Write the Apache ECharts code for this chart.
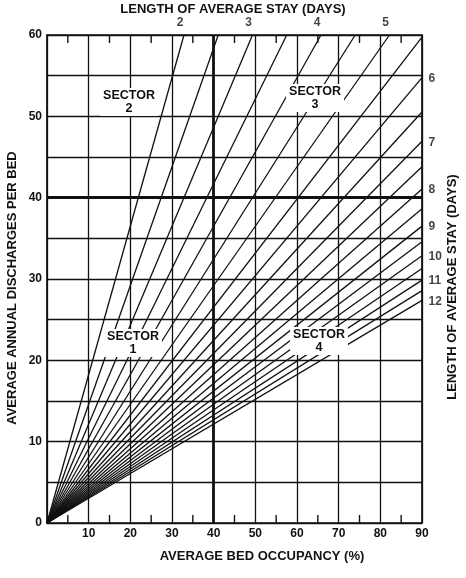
<!DOCTYPE html>
<html><head><meta charset="utf-8">
<script src="https://cdn.jsdelivr.net/npm/echarts@6/dist/echarts.min.js"></script>
<style>html,body{margin:0;padding:0;background:#fff}#c{width:466px;height:578px}</style>
</head><body><div id="c"></div>
<script>
// Length of average stay (days) for each radial line
const stayDays = [2, 2.5, 3, 3.5, 4, 4.5, 5, 5.5, 6, 6.5, 7, 7.5, 8, 8.5, 9, 9.5, 10, 10.5, 11, 11.5, 12];
const topLabelDays = [2, 3, 4, 5];
const rightLabelDays = [6, 7, 8, 9, 10, 11, 12];
const minorOccupancyTicks = [5, 15, 25, 35, 45, 55, 65, 75, 85];
const occupancyMax = 90;     // %
const dischargesMax = 60;    // per bed
const meanOccupancy = 40;
const meanDischarges = 40;
const sectorNames = ['SECTOR\n1', 'SECTOR\n2', 'SECTOR\n3', 'SECTOR\n4'];

const FONT = "'Liberation Sans', Arial, Helvetica, sans-serif";
const INK = '#111';

// discharges per bed = occupancy% * 365 / (100 * stay)
function endPoint(days) {
  const slope = 3.65 / days;
  const yAtMax = slope * occupancyMax;
  if (yAtMax >= dischargesMax) return [dischargesMax / slope, dischargesMax, days];
  return [occupancyMax, yAtMax, days];
}

const lineSeries = stayDays.map(d => ({
  type: 'line',
  data: [[0, 0], endPoint(d).slice(0, 2)],
  symbol: 'none',
  silent: true,
  lineStyle: { color: INK, width: 1.3 },
  z: 3
}));

const sectorStyle = t => ({ text: t, fill: INK, font: 'bold 12.5px ' + FONT, lineHeight: 13, align: 'center', verticalAlign: 'middle', backgroundColor: '#fff', padding: [1, 3] });
const textGraphics = [
  { type: 'text', x: 233, y: 9, z: 100, style: { text: 'LENGTH OF AVERAGE STAY (DAYS)', fill: INK, font: 'bold 13px ' + FONT, align: 'center', verticalAlign: 'middle' } },
  { type: 'text', x: 262, y: 556, z: 100, style: { text: 'AVERAGE BED OCCUPANCY (%)', fill: INK, font: 'bold 13px ' + FONT, align: 'center', verticalAlign: 'middle' } },
  { type: 'text', x: 12, y: 288, rotation: Math.PI / 2, z: 100, style: { text: 'AVERAGE ANNUAL DISCHARGES PER BED', fill: INK, font: 'bold 13px ' + FONT, align: 'center', verticalAlign: 'middle' } },
  { type: 'text', x: 452, y: 287, rotation: Math.PI / 2, z: 100, style: { text: 'LENGTH OF AVERAGE STAY (DAYS)', fill: INK, font: 'bold 13px ' + FONT, align: 'center', verticalAlign: 'middle' } },
  { type: 'text', x: 133, y: 343, z: 100, style: sectorStyle(sectorNames[0]) },
  { type: 'text', x: 129, y: 102, z: 100, style: sectorStyle(sectorNames[1]) },
  { type: 'text', x: 315, y: 98, z: 100, style: sectorStyle(sectorNames[2]) },
  { type: 'text', x: 319, y: 341, z: 100, style: sectorStyle(sectorNames[3]) }
];

const chart = echarts.init(document.getElementById('c'), null, { renderer: 'canvas' });
chart.setOption({
  animation: false,
  backgroundColor: '#fff',
  grid: { left: 47, right: 44, top: 35, bottom: 55 },
  xAxis: [{
    type: 'value', min: 0, max: occupancyMax, interval: 10, position: 'bottom',
    axisLine: { show: true, onZero: false, lineStyle: { color: INK, width: 1.7 } },
    axisTick: { show: false },
    splitLine: { show: true, lineStyle: { color: INK, width: 1.3 } },
    axisLabel: { formatter: v => v === 0 ? '' : String(v), color: INK, fontWeight: 'bold', fontSize: 12, fontFamily: FONT, margin: 5 }
  }, {
    type: 'value', min: 0, max: occupancyMax, interval: 10, position: 'top',
    axisLine: { show: true, onZero: false, lineStyle: { color: INK, width: 1.7 } },
    axisTick: { show: false },
    splitLine: { show: false },
    axisLabel: { show: false }
  }],
  yAxis: [{
    type: 'value', min: 0, max: dischargesMax, interval: 10, position: 'left',
    axisLine: { show: true, onZero: false, lineStyle: { color: INK, width: 1.7 } },
    axisTick: { show: false },
    minorTick: { show: false, splitNumber: 2 },
    splitLine: { show: true, lineStyle: { color: INK, width: 1.3 } },
    minorSplitLine: { show: true, lineStyle: { color: INK, width: 1.3 } },
    axisLabel: { color: INK, fontWeight: 'bold', fontSize: 12, fontFamily: FONT, margin: 5 }
  }, {
    type: 'value', min: 0, max: dischargesMax, interval: 10, position: 'right',
    axisLine: { show: true, onZero: false, lineStyle: { color: INK, width: 1.7 } },
    axisTick: { show: false },
    splitLine: { show: false },
    axisLabel: { show: false }
  }],
  series: [
    ...lineSeries,
    {
      type: 'line', data: [], silent: true, symbol: 'none',
      markLine: {
        silent: true, symbol: ['none', 'none'], label: { show: false },
        lineStyle: { color: INK, width: 2.8, type: 'solid' },
        data: [{ yAxis: meanDischarges }, { xAxis: meanOccupancy }]
      }
    },
    {
      type: 'scatter', silent: true, symbolSize: 1,
      itemStyle: { color: 'rgba(0,0,0,0)' },
      data: topLabelDays.map(endPoint),
      label: { show: true, position: 'top', distance: 6, offset: [-4, 0], formatter: p => String(p.value[2]),
        color: INK, fontWeight: 'bold', fontSize: 12, fontFamily: FONT }
    },
    {
      type: 'scatter', silent: true, symbolSize: 1,
      itemStyle: { color: 'rgba(0,0,0,0)' },
      data: rightLabelDays.map(endPoint),
      label: { show: true, position: 'right', distance: 6, offset: [0, 1], formatter: p => String(p.value[2]),
        color: INK, fontWeight: 'bold', fontSize: 12, fontFamily: FONT }
    }
  ],
  graphic: textGraphics
});

// minor occupancy ticks on bottom and top edges, placed through the chart's own scale
const tickGraphics = [];
minorOccupancyTicks.forEach(v => {
  const b = chart.convertToPixel({ gridIndex: 0 }, [v, 0]);
  const t = chart.convertToPixel({ gridIndex: 0 }, [v, dischargesMax]);
  const st = { stroke: INK, lineWidth: 1.4 };
  tickGraphics.push({ type: 'line', z: 50, shape: { x1: b[0], y1: b[1], x2: b[0], y2: b[1] - 8 }, style: st });
  tickGraphics.push({ type: 'line', z: 50, shape: { x1: t[0], y1: t[1], x2: t[0], y2: t[1] + 8 }, style: st });
});
chart.setOption({ graphic: textGraphics.concat(tickGraphics) });
</script></body></html>
